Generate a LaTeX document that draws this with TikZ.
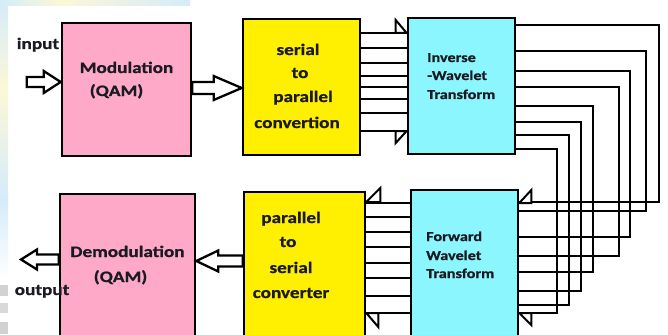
\documentclass[tikz,border=0pt]{standalone}
\usepackage{fontspec}
\setmainfont{Carlito}
\newfontfamily\lblfont[FakeStretch=1.2,FakeBold=0.8]{Carlito}
\usetikzlibrary{calc}
\definecolor{pinkbox}{HTML}{FFA9C9}
\definecolor{yellowbox}{HTML}{FFEF00}
\definecolor{cyanbox}{HTML}{8CF6FE}
\definecolor{inktext}{HTML}{1A1A22}
\definecolor{edgeblue}{HTML}{D4ECFA}
\definecolor{edgeyellow}{HTML}{FCF7D8}
\begin{document}
\begin{tikzpicture}[x=1pt,y=-1pt,
  blockbox/.style={draw=black,line width=2.6pt,inner sep=0pt},
  wire/.style={draw=black,line width=2.6pt},
  halftip/.style={draw=black,fill=white,line width=2pt,line join=miter},
  fatarrow/.style={draw=black,fill=white,line width=2.3pt,line join=miter},
  lbl/.style={inner sep=0pt,anchor=base,text=inktext,
    font=\lblfont\bfseries\fontsize{16}{19}\selectfont},
  smlbl/.style={inner sep=0pt,anchor=base west,text=inktext,
    font=\lblfont\bfseries\fontsize{13.5}{16}\selectfont}]
\useasboundingbox (0,0) rectangle (668,334);
\clip (0,0) rectangle (668,334);
\fill[white] (0,0) rectangle (668,334);
% slide background showing along the left and top edges
\shade[top color=edgeblue,bottom color=edgeyellow] (0,0) rectangle (8,90);
\shade[top color=edgeyellow,bottom color=edgeblue] (0,90) rectangle (8,200);
\shade[top color=edgeblue,bottom color=white] (0,200) rectangle (8,280);
\shade[left color=edgeblue,right color=edgeyellow] (0,0) rectangle (60,6);
\shade[left color=edgeyellow,right color=edgeblue] (60,0) rectangle (190,6);
\fill[gray!35] (0,285) rectangle (8,296);
\fill[gray!30] (0,303) rectangle (8,313);
\fill[gray!35] (0,322) rectangle (8,334);

% processing blocks
\node[blockbox,fill=pinkbox,minimum width=129pt,minimum height=133pt] (mod) at (126.5,89.5) {};
\node[blockbox,fill=yellowbox,minimum width=117pt,minimum height=136pt] (sp) at (301.5,87) {};
\node[blockbox,fill=cyanbox,minimum width=107pt,minimum height=136pt] (iwt) at (461.5,86) {};
\node[blockbox,fill=pinkbox,minimum width=135pt,minimum height=156pt] (demod) at (127.5,272) {};
\node[blockbox,fill=yellowbox,minimum width=121pt,minimum height=158pt] (ps) at (304.5,271) {};
\node[blockbox,fill=cyanbox,minimum width=107pt,minimum height=160pt] (fwt) at (464.5,270) {};

% block labels
\node[lbl] (tin) at (38,49) {input};
\node[lbl] (tmod1) at (126.5,73) {Modulation};
\node[lbl] (tmod2) at (116.5,96) {(QAM)};
\node[lbl] (tsp1) at (298,55) {serial};
\node[lbl] (tsp2) at (300,78) {to};
\node[lbl] (tsp3) at (303,102) {parallel};
\node[lbl] (tsp4) at (297,128) {convertion};
\node[lbl] (tdem1) at (127.5,257) {Demodulation};
\node[lbl] (tdem2) at (120.5,282) {(QAM)};
\node[lbl] (tout) at (42,295) {output};
\node[lbl] (tps1) at (291,223) {parallel};
\node[lbl] (tps2) at (288,247) {to};
\node[lbl] (tps3) at (291,273) {serial};
\node[lbl] (tps4) at (291,298) {converter};
\node[smlbl] (tiw1) at (427,62) {Inverse};
\node[smlbl] (tiw2) at (427,80) {-Wavelet};
\node[smlbl] (tiw3) at (427,99) {Transform};
\node[smlbl] (tfw1) at (426,241) {Forward};
\node[smlbl] (tfw2) at (426,260) {Wavelet};
\node[smlbl] (tfw3) at (426,278) {Transform};

% serial stream arrows
\coordinate (inhead) at (mod.west |- 0,82);
\path[fatarrow] ($(inhead)+(-34,-5)$) -- ($(inhead)+(-17,-5)$) -- ($(inhead)+(-17,-11)$)
  -- (inhead) -- ($(inhead)+(-17,11)$) -- ($(inhead)+(-17,5)$) -- ($(inhead)+(-34,5)$) -- cycle;
\coordinate (mtail) at (mod.east |- 0,88);
\coordinate (mhead) at (sp.west |- 0,88);
\path[fatarrow] ($(mtail)+(0,-6)$) -- ($(mhead)+(-28,-6)$) -- ($(mhead)+(-28,-12)$)
  -- (mhead) -- ($(mhead)+(-28,12)$) -- ($(mhead)+(-28,6)$) -- ($(mtail)+(0,6)$) -- cycle;
\coordinate (ptail) at (ps.west |- 0,261);
\coordinate (phead) at (demod.east |- 0,261);
\path[fatarrow] ($(ptail)+(0,-5.5)$) -- ($(phead)+(22,-5.5)$) -- ($(phead)+(22,-10.5)$)
  -- (phead) -- ($(phead)+(22,10.5)$) -- ($(phead)+(22,5.5)$) -- ($(ptail)+(0,5.5)$) -- cycle;
\coordinate (otail) at (demod.west |- 0,259.5);
\coordinate (ohead) at (21,259.5);
\path[fatarrow] ($(otail)+(0,-5)$) -- ($(ohead)+(16,-5)$) -- ($(ohead)+(16,-10)$)
  -- (ohead) -- ($(ohead)+(16,10)$) -- ($(ohead)+(16,5)$) -- ($(otail)+(0,5)$) -- cycle;

% parallel lines: serial-to-parallel into the inverse transform
\foreach \y in {33,48,63,76,87,99,113,131}
  \draw[wire] (sp.east |- 0,\y) -- (iwt.west |- 0,\y);
\coordinate (a1) at (iwt.west |- 0,33);
\coordinate (a2) at (iwt.west |- 0,131);
\path[halftip] (a1) -- ($(a1)+(-11,-13)$) -- ($(a1)+(-11,0)$) -- cycle;
\path[halftip] (a2) -- ($(a2)+(-11,12)$) -- ($(a2)+(-11,0)$) -- cycle;

% channel loop from the inverse transform back to the forward transform
\foreach \a/\b/\c in {25/659/202,51/646/211,71/630/237,87/619/256,
                      106/593/272,122/581/291,135/569/305,149/557/313}
  \draw[wire,line join=miter] (iwt.east |- 0,\a) -| (\b,\c) -- (fwt.east |- 0,\c);
\coordinate (b1) at (fwt.east |- 0,203);
\coordinate (b2) at (fwt.east |- 0,313);
\path[halftip] (b1) -- ($(b1)+(12,-13)$) -- ($(b1)+(12,0)$) -- cycle;
\path[halftip] (b2) -- ($(b2)+(12,12)$) -- ($(b2)+(12,0)$) -- cycle;

% parallel lines: forward transform into parallel-to-serial
\foreach \y in {203,217,232,247,263,278,296,313}
  \draw[wire] (fwt.west |- 0,\y) -- (ps.east |- 0,\y);
\coordinate (c1) at (ps.east |- 0,202);
\coordinate (c2) at (ps.east |- 0,313);
\path[halftip] (c1) -- ($(c1)+(14,-14)$) -- ($(c1)+(14,0)$) -- cycle;
\path[halftip] (c2) -- ($(c2)+(12,14)$) -- ($(c2)+(12,0)$) -- cycle;
\end{tikzpicture}
\end{document}
